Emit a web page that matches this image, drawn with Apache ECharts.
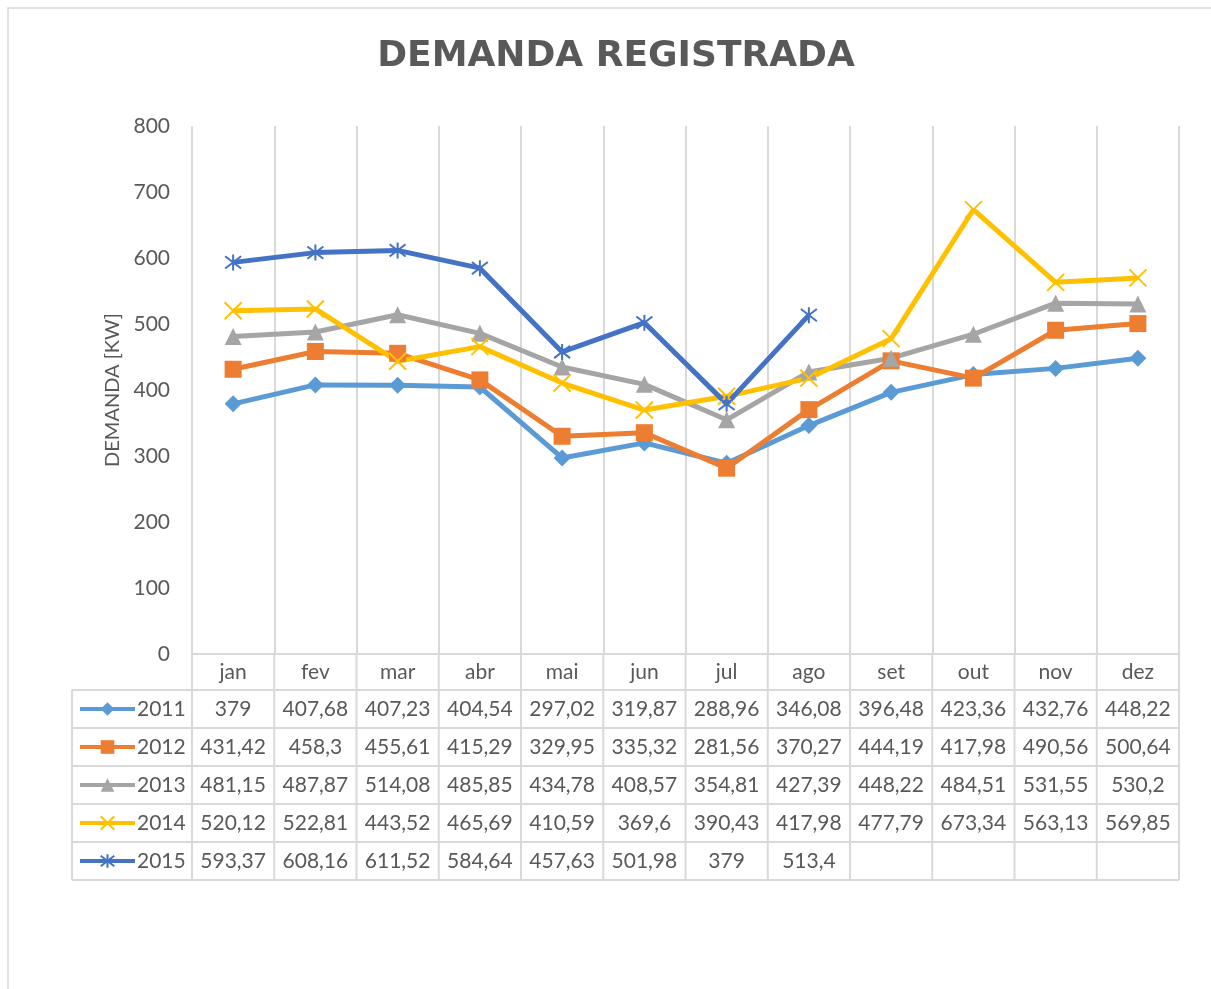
<!DOCTYPE html>
<html>
<head>
<meta charset="utf-8">
<script src="https://cdn.jsdelivr.net/npm/echarts@6/dist/echarts.min.js"></script>
<style>
  html, body { margin: 0; padding: 0; background: #fff; }
  #chart { width: 1211px; height: 989px; }
</style>
</head>
<body>
<div id="chart"></div>
<script>
  const months = ['jan', 'fev', 'mar', 'abr', 'mai', 'jun', 'jul', 'ago', 'set', 'out', 'nov', 'dez']
  const years = ['2011', '2012', '2013', '2014', '2015']
  const d2011 = [379, 407.68, 407.23, 404.54, 297.02, 319.87, 288.96, 346.08, 396.48, 423.36, 432.76, 448.22]
  const d2012 = [431.42, 458.3, 455.61, 415.29, 329.95, 335.32, 281.56, 370.27, 444.19, 417.98, 490.56, 500.64]
  const d2013 = [481.15, 487.87, 514.08, 485.85, 434.78, 408.57, 354.81, 427.39, 448.22, 484.51, 531.55, 530.2]
  const d2014 = [520.12, 522.81, 443.52, 465.69, 410.59, 369.6, 390.43, 417.98, 477.79, 673.34, 563.13, 569.85]
  const d2015 = [593.37, 608.16, 611.52, 584.64, 457.63, 501.98, 379, 513.4, null, null, null, null]
  const yTicks = [0, 100, 200, 300, 400, 500, 600, 700, 800]

  const seriesData = [d2011, d2012, d2013, d2014, d2015]
  const colors = ['#5B9BD5', '#ED7D31', '#A5A5A5', '#FFC000', '#4472C4']
  const symbols = [
    'diamond',
    'rect',
    'triangle',
    'path://M0,0L10,10M10,0L0,10',
    'path://M0,0L10,10M10,0L0,10M5,-1.5L5,11.5',
  ]
  const sizes = [17, 17, 17, 17, 16]

  const FONT = 'Lato'
  const TXT = '#595959'
  const GRID = '#D9D9D9'
  const ROW_H = 38
  const TABLE_TOP = 690
  const TABLE_LEFT = 72

  const fmt = v => (v == null ? '' : String(v).replace('.', ','))

  const chart = echarts.init(document.getElementById('chart'))

  chart.setOption({
    animation: false,
    title: {
      text: 'DEMANDA REGISTRADA',
      left: 611,
      top: 34,
      textAlign: 'center',
      textStyle: {
        fontFamily: 'DejaVu Sans',
        fontWeight: 'bold',
        fontSize: 36,
        color: TXT,
      },
    },
    grid: { left: 192, right: 32, top: 126, bottom: 335 },
    legend: {
      orient: 'vertical',
      left: 78,
      top: 698.5,
      padding: 0,
      itemWidth: 55,
      itemHeight: 17,
      itemGap: 17,
      data: years,
      lineStyle: { width: 4 },
      textStyle: { fontFamily: FONT, fontSize: 21, color: TXT, lineHeight: 21, padding: [0, 0, 0, -3] },
    },
    xAxis: {
      type: 'category',
      data: months,
      boundaryGap: true,
      axisLine: { show: true, lineStyle: { color: GRID, width: 2 } },
      axisTick: { show: false },
      splitLine: { show: true, lineStyle: { color: GRID, width: 2 } },
      axisLabel: { fontFamily: FONT, fontSize: 21, color: TXT, margin: 8 },
    },
    yAxis: {
      type: 'value',
      min: yTicks[0],
      max: yTicks[yTicks.length - 1],
      interval: 100,
      name: 'DEMANDA [KW]',
      nameLocation: 'middle',
      nameGap: 60,
      nameTextStyle: { fontFamily: FONT, fontSize: 20, color: TXT },
      axisLine: { show: false },
      axisTick: { show: false },
      splitLine: { show: false },
      axisLabel: { fontFamily: FONT, fontSize: 21, color: TXT, margin: 22 },
    },
    series: years.map((y, i) => ({
      name: y,
      type: 'line',
      data: seriesData[i],
      symbol: symbols[i],
      symbolSize: sizes[i],
      showAllSymbol: true,
      connectNulls: false,
      lineStyle: { color: colors[i], width: 5 },
      itemStyle: i >= 3
        ? { color: 'none', borderColor: colors[i], borderWidth: 2 }
        : { color: colors[i], borderWidth: 0 },
    })),
  })

  // data table drawn below the plot, aligned on the category axis
  const xs = months.map((m, i) => chart.convertToPixel({ xAxisIndex: 0 }, i))
  const band = xs.length > 1 ? xs[1] - xs[0] : 82
  const plotLeft = xs[0] - band / 2
  const plotRight = xs[xs.length - 1] + band / 2
  const axisY = chart.convertToPixel({ yAxisIndex: 0 }, 0)
  const tableBottom = TABLE_TOP + ROW_H * years.length

  const graphics = []
  // outer chart border
  graphics.push({
    type: 'rect',
    shape: { x: 8, y: 8, width: 1210, height: 1000 },
    style: { fill: 'none', stroke: GRID, lineWidth: 1.5 },
    silent: true,
  })
  // horizontal rules of the table
  for (let r = 0; r <= years.length; r++) {
    const y = TABLE_TOP + r * ROW_H
    graphics.push({
      type: 'line',
      shape: { x1: TABLE_LEFT, y1: y, x2: plotRight, y2: y },
      style: { stroke: GRID, lineWidth: 2 },
      silent: true,
    })
  }
  // vertical rules: legend column edge and month boundaries
  graphics.push({
    type: 'line',
    shape: { x1: TABLE_LEFT, y1: TABLE_TOP, x2: TABLE_LEFT, y2: tableBottom },
    style: { stroke: GRID, lineWidth: 2 },
    silent: true,
  })
  for (let k = 0; k <= months.length; k++) {
    const x = plotLeft + k * band
    graphics.push({
      type: 'line',
      shape: { x1: x, y1: axisY, x2: x, y2: tableBottom },
      style: { stroke: GRID, lineWidth: 2 },
      silent: true,
    })
  }
  // cell values
  seriesData.forEach((row, r) => {
    const cy = TABLE_TOP + r * ROW_H + ROW_H / 2
    row.forEach((v, c) => {
      if (v == null) return
      graphics.push({
        type: 'text',
        x: xs[c],
        y: cy,
        style: {
          text: fmt(v),
          fontFamily: FONT,
          fontSize: 21,
          fill: TXT,
          align: 'center',
          verticalAlign: 'middle',
        },
        silent: true,
      })
    })
  })

  chart.setOption({ graphic: graphics })
</script>
</body>
</html>
